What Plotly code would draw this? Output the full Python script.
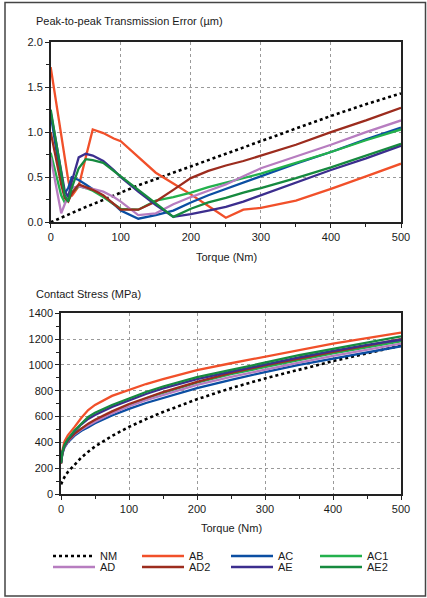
import plotly.graph_objects as go

W, H = 427, 598

# ---------------- data ----------------
series = ["NM", "AB", "AC", "AC1", "AD", "AD2", "AE", "AE2"]
colors = {"NM": "#000000", "AB": "#F1502A", "AC": "#0B4EA2", "AC1": "#23B14D",
          "AD": "#B77DC0", "AD2": "#9C2C1E", "AE": "#3C2E8E", "AE2": "#168A3F"}

torque_te = [0, 10, 15, 20, 25, 30, 40, 50, 60, 75, 90, 100, 125, 150, 175, 200, 225, 250, 275, 300, 350, 400, 450, 500]
te_NM = [0.0, 0.035, 0.05, 0.07, 0.085, 0.1, 0.135, 0.17, 0.2, 0.25, 0.3, 0.33, 0.41, 0.48, 0.55, 0.62, 0.69, 0.76, 0.83, 0.9, 1.04, 1.18, 1.31, 1.43]
te_AB = [1.72, 1.22, 0.97, 0.72, 0.47, 0.29, 0.4, 0.72, 1.03, 0.99, 0.93, 0.9, 0.73, 0.55, 0.43, 0.31, 0.18, 0.05, 0.14, 0.16, 0.24, 0.37, 0.51, 0.65]
te_AC = [1.2, 0.7, 0.45, 0.32, 0.38, 0.5, 0.47, 0.42, 0.37, 0.29, 0.2, 0.13, 0.04, 0.08, 0.13, 0.22, 0.3, 0.37, 0.44, 0.51, 0.65, 0.78, 0.92, 1.05]
te_AC1 = [0.77, 0.45, 0.3, 0.22, 0.25, 0.33, 0.4, 0.38, 0.35, 0.28, 0.2, 0.15, 0.14, 0.24, 0.28, 0.33, 0.39, 0.44, 0.49, 0.54, 0.66, 0.78, 0.91, 1.03]
te_AD = [0.72, 0.3, 0.1, 0.2, 0.3, 0.38, 0.4, 0.38, 0.37, 0.34, 0.28, 0.23, 0.08, 0.1, 0.2, 0.28, 0.35, 0.42, 0.51, 0.6, 0.73, 0.86, 1.0, 1.13]
te_AD2 = [1.0, 0.6, 0.42, 0.27, 0.23, 0.32, 0.42, 0.39, 0.36, 0.3, 0.2, 0.14, 0.14, 0.23, 0.36, 0.49, 0.57, 0.63, 0.68, 0.74, 0.86, 1.0, 1.13, 1.27]
te_AE = [1.22, 0.8, 0.55, 0.35, 0.28, 0.45, 0.72, 0.76, 0.74, 0.68, 0.58, 0.5, 0.34, 0.19, 0.06, 0.09, 0.13, 0.17, 0.23, 0.3, 0.44, 0.58, 0.71, 0.85]
te_AE2 = [1.25, 0.8, 0.55, 0.3, 0.23, 0.38, 0.6, 0.7, 0.69, 0.66, 0.57, 0.5, 0.35, 0.2, 0.06, 0.15, 0.22, 0.27, 0.33, 0.38, 0.49, 0.61, 0.74, 0.87]

torque_cs = [0, 2, 5, 10, 20, 30, 40, 50, 75, 100, 125, 150, 200, 250, 300, 350, 400, 450, 500]
cs_NM = [75, 100, 130, 170, 228, 283, 328, 368, 450, 520, 580, 635, 734, 820, 895, 965, 1030, 1090, 1150]
cs_AB = [240, 335, 405, 455, 520, 590, 650, 690, 760, 808, 852, 890, 960, 1013, 1063, 1115, 1165, 1208, 1250]
cs_AC = [240, 310, 360, 400, 452, 490, 518, 548, 608, 660, 705, 745, 820, 884, 945, 1000, 1050, 1098, 1145]
cs_AC1 = [240, 318, 370, 412, 468, 507, 537, 568, 634, 690, 740, 783, 862, 928, 985, 1038, 1090, 1137, 1183]
cs_AD = [240, 315, 365, 408, 462, 500, 530, 560, 625, 680, 727, 768, 845, 908, 965, 1018, 1070, 1118, 1165]
cs_AD2 = [235, 318, 370, 412, 468, 510, 545, 575, 640, 697, 746, 790, 868, 938, 997, 1052, 1102, 1150, 1200]
cs_AE = [240, 322, 375, 420, 487, 540, 582, 612, 675, 725, 775, 818, 890, 948, 1005, 1058, 1108, 1155, 1195]
cs_AE2 = [240, 325, 378, 425, 492, 545, 598, 630, 690, 740, 790, 833, 905, 961, 1020, 1075, 1125, 1175, 1222]

te = {"NM": te_NM, "AB": te_AB, "AC": te_AC, "AC1": te_AC1, "AD": te_AD, "AD2": te_AD2, "AE": te_AE, "AE2": te_AE2}
cs = {"NM": cs_NM, "AB": cs_AB, "AC": cs_AC, "AC1": cs_AC1, "AD": cs_AD, "AD2": cs_AD2, "AE": cs_AE, "AE2": cs_AE2}

row1 = ["NM", "AB", "AC", "AC1"]
legend_order = ["NM", "AB", "AC", "AC1", "AD", "AD2", "AE", "AE2"]

FONT = "Liberation Sans, Arial, sans-serif"

def px(x):
    return x / W

def py(y):
    return (H - y) / H

fig = go.Figure()

def line_style(name):
    if name == "NM":
        return dict(color="#000000", width=2.6, dash="dot")
    return dict(color=colors[name], width=2.3)

for name in legend_order:
    fig.add_trace(go.Scatter(
        x=torque_te, y=te[name], mode="lines", name=name,
        line=line_style(name), xaxis="x", yaxis="y",
        legend="legend" if name in row1 else "legend2",
        showlegend=True))

for name in legend_order:
    fig.add_trace(go.Scatter(
        x=torque_cs, y=cs[name], mode="lines", name=name,
        line=line_style(name), xaxis="x2", yaxis="y2", showlegend=False))

axis_common = dict(
    showline=True, linecolor="#222222", linewidth=1.5, mirror=True,
    ticks="outside", ticklen=4, tickwidth=1, tickcolor="#222222",
    showgrid=True, gridcolor="#9a9a9a", griddash="dot", gridwidth=1,
    zeroline=False, automargin=False,
    tickfont=dict(family=FONT, size=11, color="#1a1a1a"),
)

legend_common = dict(orientation="h", xanchor="left", yanchor="middle",
                     entrywidth=32, entrywidthmode="pixels", bgcolor="rgba(0,0,0,0)",
                     font=dict(family=FONT, size=11, color="#1a1a1a"), traceorder="normal",
                     itemwidth=42, tracegroupgap=0)

fig.update_layout(
    width=W, height=H,
    margin=dict(l=0, r=0, t=0, b=0),
    paper_bgcolor="white", plot_bgcolor="white",
    font=dict(family=FONT, size=11, color="#1a1a1a"),
    xaxis=dict(domain=[px(50.7), px(401)], range=[0, 500], anchor="y",
               tickmode="linear", tick0=0, dtick=100,
               minor=dict(dtick=50, ticks="outside", ticklen=3, tickcolor="#222222", showgrid=False),
               **axis_common),
    yaxis=dict(domain=[py(222.3), py(42)], range=[0, 2], anchor="x",
               tickmode="linear", tick0=0, dtick=0.5, tickformat=".1f",
               minor=dict(dtick=0.25, ticks="outside", ticklen=3, tickcolor="#222222", showgrid=False),
               **axis_common),
    xaxis2=dict(domain=[px(61), px(401)], range=[0, 500], anchor="y2",
                tickmode="linear", tick0=0, dtick=100,
                minor=dict(dtick=50, ticks="outside", ticklen=3, tickcolor="#222222", showgrid=False),
                **axis_common),
    yaxis2=dict(domain=[py(494), py(313.3)], range=[0, 1400], anchor="x2",
                tickmode="linear", tick0=0, dtick=200,
                minor=dict(dtick=100, ticks="outside", ticklen=3, tickcolor="#222222", showgrid=False),
                **axis_common),
    legend=dict(x=px(48), y=py(556), **legend_common),
    legend2=dict(x=px(48), y=py(567), **legend_common),
    showlegend=True,
)

annotations = [
    dict(text="Peak-to-peak Transmission Error (µm)", x=px(34), y=py(21), xanchor="left", yanchor="middle"),
    dict(text="Torque (Nm)", x=px(226), y=py(257), xanchor="center", yanchor="middle"),
    dict(text="Contact Stress (MPa)", x=px(34), y=py(294), xanchor="left", yanchor="middle"),
    dict(text="Torque (Nm)", x=px(231), y=py(528), xanchor="center", yanchor="middle"),
]
fig.update_layout(annotations=[dict(a, xref="paper", yref="paper", showarrow=False,
                                    font=dict(family=FONT, size=11, color="#1a1a1a"))
                               for a in annotations])

fig.add_shape(type="rect", xref="paper", yref="paper",
              x0=px(5), x1=px(425.5), y0=py(596), y1=py(2.5),
              line=dict(color="#444444", width=1.5), fillcolor="rgba(0,0,0,0)", layer="above")

fig.write_html("out.html")
